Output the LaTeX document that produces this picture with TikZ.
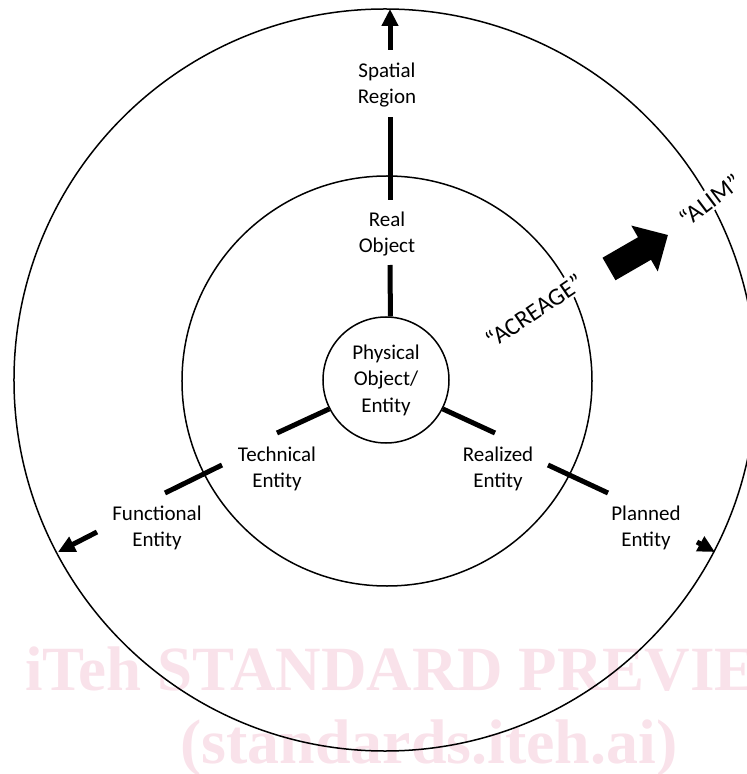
\documentclass[tikz,border=0pt]{standalone}
\usepackage{fontspec}
\setmainfont{Carlito}
\newfontfamily\markfont{Liberation Serif}
\usetikzlibrary{arrows.meta}
\definecolor{markpink}{RGB}{249,226,234}
\tikzset{
    >={Triangle[width=16bp,length=17bp]},
    ring/.style={draw, line width=1.5bp},
    tag/.style={align=center, inner sep=0pt, font=\fontsize{21bp}{26.5bp}\selectfont},
    quote/.style={fill=white, inner sep=2bp, font=\fontsize{24.5bp}{29bp}\selectfont},
    spoke/.style={line width=5bp},
    watermark/.style={anchor=base west, inner sep=0pt, text=markpink, font=\markfont\bfseries\fontsize{63bp}{63bp}\selectfont}
}

\begin{document}
\begin{tikzpicture}[x=1bp, y=1bp]
    \useasboundingbox (-386,-394) rectangle (361,380);
    \clip (-386,-394) rectangle (361,380);

    % watermark behind everything
    \node[watermark] (mark1) at (-361,-310) {iTeh STANDARD PREVIEW};
    \node[watermark, xscale=1.015, transform shape] (mark2) at (-206,-383) {(standards.iteh.ai)};

    \draw[ring] (-1,0) circle[radius=371bp];
    \draw[ring] (1,-1) circle[radius=205bp];
    \node[ring, circle, minimum size=126bp, tag] (core) at (0,0) {Physical\\Object/\\Entity};

    \node[tag] (real) at (1,146) {Real\\Object};
    \node[tag] (spatial) at (1,295) {Spatial\\Region};
    \node[tag] (technical) at (-109,-89) {Technical\\Entity};
    \node[tag] (functional) at (-229,-148) {Functional\\Entity};
    \node[tag] (realized) at (112,-89) {Realized\\Entity};
    \node[tag] (planned) at (260,-148) {Planned\\Entity};

    \node[quote, rotate=34] (acreage) at (148,69) {“ACREAGE”};
    \node[quote, rotate=37] (alim) at (324,180) {“ALIM”};
    \fill[shift={(223,111)}, rotate=30] (0,-13) -- (41,-13) -- (41,-26.5) -- (68,0)
        -- (41,26.5) -- (41,13) -- (0,13) -- cycle;

    % upward spoke
    \coordinate (up1) at (4,115);
    \coordinate (up2) at (4,180);
    \coordinate (up3) at (4,263);
    \coordinate (up4) at (4,330);
    \coordinate (upend) at (4,371);
    \draw[spoke] (core.86) -- (up1);
    \draw[spoke] (up2) -- (up3);
    \draw[spoke, ->] (up4) -- (upend);

    % left spoke
    \coordinate (lf1) at (-109,-53);
    \coordinate (lf2) at (-164,-85);
    \coordinate (lf3) at (-221,-113);
    \coordinate (lf4) at (-289,-152);
    \coordinate (lfend) at (-328,-172);
    \draw[spoke] (core.207) -- (lf1);
    \draw[spoke] (lf2) -- (lf3);
    \draw[spoke, ->] (lf4) -- (lfend);

    % right spoke
    \coordinate (rt1) at (109,-53);
    \coordinate (rt2) at (162,-85);
    \coordinate (rt3) at (222,-113);
    \coordinate (rt4) at (311,-162);
    \coordinate (rtend) at (329,-172);
    \draw[spoke] (core.-27) -- (rt1);
    \draw[spoke] (rt2) -- (rt3);
    \draw[spoke, ->] (rt4) -- (rtend);
\end{tikzpicture}
\end{document}
